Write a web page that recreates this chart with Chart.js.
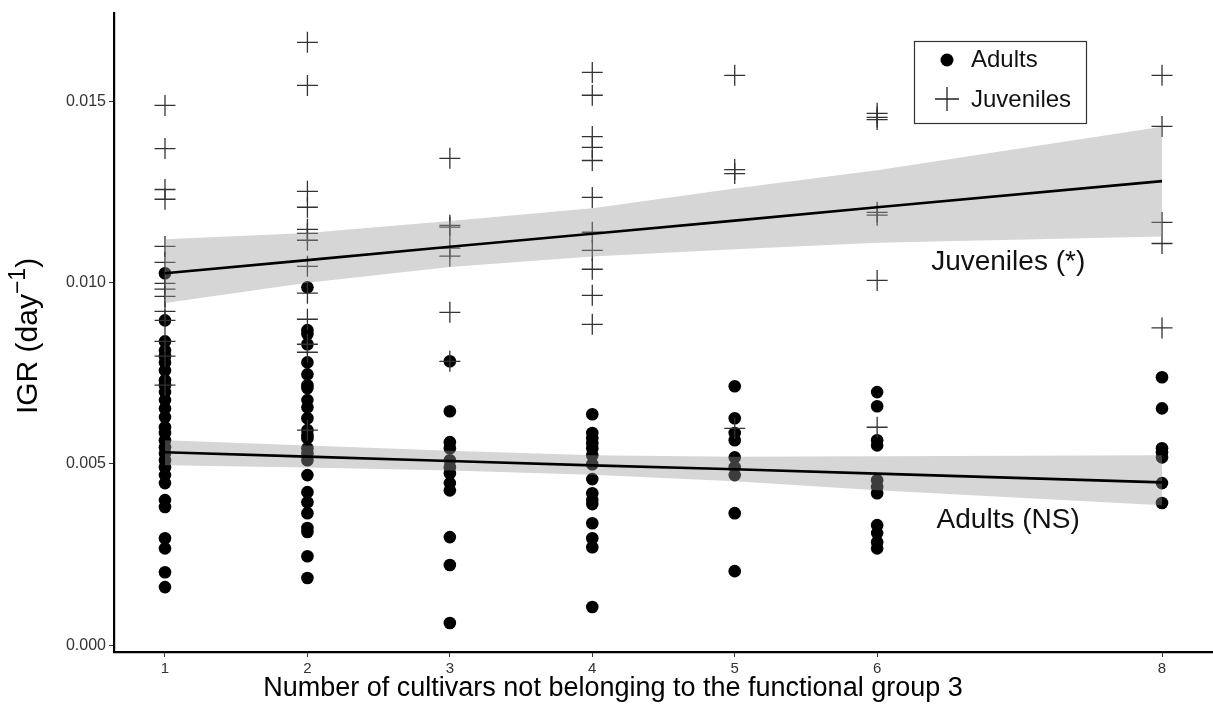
<!DOCTYPE html>
<html lang="en">
<head>
<meta charset="utf-8"/>
<title>IGR vs number of cultivars</title>
<script src="https://cdn.jsdelivr.net/npm/chart.js@4.4.3/dist/chart.umd.min.js"></script>
<style>
  html, body { margin: 0; padding: 0; background: #fff; overflow: hidden; }
  #wrap { width: 1213px; height: 718px; }
  canvas { display: block; }
</style>
</head>
<body>
<div id="wrap"><canvas id="c" width="1213" height="718"></canvas></div>
<script>
// --- data ---------------------------------------------------------------
const xTicks = [1, 2, 3, 4, 5, 6, 8];
const yTicks = [0, 0.005, 0.010, 0.015];

// adults (filled dots), grouped by number of cultivars
const adultsX1 = [0.01026, 0.00896, 0.00838, 0.00813, 0.00797, 0.00780, 0.00758, 0.00731, 0.00717, 0.00698,
  0.00676, 0.00653, 0.00629, 0.00601, 0.00585, 0.00565, 0.00546, 0.00529, 0.00510, 0.00491,
  0.00469, 0.00447, 0.00400, 0.00381, 0.00295, 0.00267, 0.00201, 0.00160];
const adultsX2 = [0.00987, 0.00869, 0.00858, 0.00830, 0.00780, 0.00747, 0.00717, 0.00709, 0.00676, 0.00656,
  0.00626, 0.00593, 0.00579, 0.00571, 0.00543, 0.00529, 0.00510, 0.00469, 0.00422, 0.00394,
  0.00364, 0.00323, 0.00312, 0.00245, 0.00185];
const adultsX3 = [0.00783, 0.00645, 0.00560, 0.00543, 0.00510, 0.00491, 0.00474, 0.00447, 0.00427, 0.00298,
  0.00221, 0.00061];
const adultsX4 = [0.00637, 0.00585, 0.00571, 0.00557, 0.00543, 0.00524, 0.00499, 0.00458, 0.00419, 0.00400,
  0.00389, 0.00336, 0.00295, 0.00270, 0.00105];
const adultsX5 = [0.00714, 0.00626, 0.00585, 0.00565, 0.00518, 0.00491, 0.00469, 0.00364, 0.00204];
const adultsX6 = [0.00698, 0.00659, 0.00565, 0.00551, 0.00455, 0.00436, 0.00419, 0.00331, 0.00309, 0.00284, 0.00267];
const adultsX8 = [0.00739, 0.00653, 0.00543, 0.00532, 0.00518, 0.00447, 0.00392];

// juveniles (crosses)
const juvX1 = [0.01489, 0.01370, 0.01257, 0.01230, 0.01100, 0.01056, 0.00998, 0.00982, 0.00962, 0.00921,
  0.00896, 0.00838, 0.00797, 0.00717];
const juvX2 = [0.01663, 0.01544, 0.01252, 0.01208, 0.01147, 0.01136, 0.01117, 0.01045, 0.00971, 0.00899,
  0.00830, 0.00808, 0.00593];
const juvX3 = [0.01343, 0.01158, 0.01153, 0.01095, 0.01073, 0.00918, 0.00783];
const juvX4 = [0.01580, 0.01517, 0.01403, 0.01373, 0.01337, 0.01235, 0.01139, 0.01089, 0.01037, 0.00965, 0.00885];
const juvX5 = [0.01572, 0.01312, 0.01301, 0.00598];
const juvX6 = [0.01467, 0.01456, 0.01450, 0.01194, 0.01186, 0.01006, 0.00601];
const juvX8 = [0.01572, 0.01431, 0.01166, 0.01108, 0.00875];

// linear fits with confidence bands, at the tick positions
const fitX = [1, 2, 3, 4, 5, 6, 8];
const juvFit = [0.01026, 0.01062, 0.01099, 0.01135, 0.01171, 0.01208, 0.01280];
const juvUpper = [0.01120, 0.01137, 0.01170, 0.01205, 0.01260, 0.01310, 0.01430];
const juvLower = [0.00944, 0.01000, 0.01043, 0.01072, 0.01092, 0.01110, 0.01127];
const adFit = [0.00532, 0.00520, 0.00508, 0.00496, 0.00485, 0.00473, 0.00449];
const adUpper = [0.00565, 0.00551, 0.00536, 0.00524, 0.00520, 0.00521, 0.00524];
const adLower = [0.00496, 0.00490, 0.00482, 0.00470, 0.00452, 0.00427, 0.00386];

// ---------------------------------------------------------------------------
const FONT = 'Liberation Sans, Arial, Helvetica, sans-serif';

function group(xs, cols) {
  const out = [];
  xs.forEach((x, i) => cols[i].forEach((y) => out.push({ x, y })));
  return out;
}
const pts = (ys) => fitX.map((x, i) => ({ x, y: ys[i] }));

const adults = group(xTicks, [adultsX1, adultsX2, adultsX3, adultsX4, adultsX5, adultsX6, adultsX8]);
const juveniles = group(xTicks, [juvX1, juvX2, juvX3, juvX4, juvX5, juvX6, juvX8]);

const band = (ys, fillTo) => ({
  type: 'line', data: pts(ys), borderWidth: 0, pointRadius: 0,
  backgroundColor: 'rgba(153,153,153,0.4)', fill: fillTo, order: 2,
});
const fitLine = (ys) => ({
  type: 'line', data: pts(ys), borderColor: '#000', borderWidth: 2.6,
  pointRadius: 0, fill: false, order: 1,
});

// inset legend, line annotations and both axis titles
const decorations = {
  id: 'decorations',
  afterDraw(chart) {
    const { ctx, scales: { x, y } } = chart;
    ctx.save();
    // legend box
    ctx.strokeStyle = '#333';
    ctx.lineWidth = 1.2;
    ctx.strokeRect(914.5, 41.5, 172, 82);
    ctx.fillStyle = '#000';
    ctx.beginPath();
    ctx.arc(947, 60, 6.5, 0, Math.PI * 2);
    ctx.fill();
    ctx.strokeStyle = '#222';
    ctx.lineWidth = 1.3;
    ctx.beginPath();
    ctx.moveTo(935, 99); ctx.lineTo(959, 99);
    ctx.moveTo(947, 87); ctx.lineTo(947, 111);
    ctx.stroke();
    ctx.font = '24px ' + FONT;
    ctx.textBaseline = 'middle';
    ctx.textAlign = 'left';
    ctx.fillStyle = '#111';
    ctx.fillText('Adults', 971, 60);
    ctx.fillText('Juveniles', 971, 100);
    // fit labels
    ctx.font = '28px ' + FONT;
    ctx.textAlign = 'center';
    ctx.fillText('Juveniles (*)', x.getPixelForValue(6.92), y.getPixelForValue(0.01056));
    ctx.fillText('Adults (NS)', x.getPixelForValue(6.92), y.getPixelForValue(0.00345));
    // x title
    ctx.fillStyle = '#000';
    ctx.font = '27px ' + FONT;
    ctx.fillText('Number of cultivars not belonging to the functional group 3', 613, 689);
    // y title: IGR (day^-1)
    const main = '30px ' + FONT, sup = '23px ' + FONT;
    const parts = [['IGR (day', main, 0], ['\u22121', sup, -12], [')', main, 0]];
    let total = 0;
    parts.forEach((p) => { ctx.font = p[1]; total += ctx.measureText(p[0]).width; });
    ctx.translate(27, 336);
    ctx.rotate(-Math.PI / 2);
    ctx.textAlign = 'left';
    ctx.textBaseline = 'alphabetic';
    let cx = -total / 2;
    parts.forEach((p) => {
      ctx.font = p[1];
      ctx.fillText(p[0], cx, 10 + p[2]);
      cx += ctx.measureText(p[0]).width;
    });
    ctx.restore();
  },
};

new Chart(document.getElementById('c'), {
  type: 'scatter',
  data: {
    datasets: [
      { label: 'Adults', data: adults, pointStyle: 'circle', pointRadius: 6.3, pointHoverRadius: 6.3,
        backgroundColor: '#000', borderColor: '#000', borderWidth: 0, order: 4 },
      { label: 'Juveniles', data: juveniles, pointStyle: 'cross', pointRadius: 10.5, pointHoverRadius: 10.5,
        borderColor: '#333', borderWidth: 1.3, order: 3 },
      band(juvUpper, 3),
      band(juvLower, false),
      band(adUpper, 5),
      band(adLower, false),
      fitLine(juvFit),
      fitLine(adFit),
    ],
  },
  options: {
    responsive: false,
    animation: false,
    layout: { autoPadding: false, padding: { top: 12, right: 0, left: 0, bottom: 0 } },
    plugins: { legend: { display: false }, tooltip: { enabled: false } },
    scales: {
      x: {
        type: 'linear', min: 0.642, max: 8.358,
        afterBuildTicks: (s) => { s.ticks = xTicks.map((v) => ({ value: v })); },
        afterFit: (s) => { s.height = 66; },
        ticks: { color: '#333', font: { size: 15, family: FONT }, padding: 3, callback: (v) => String(v) },
        grid: { drawOnChartArea: false, drawTicks: true, tickLength: 5, color: '#333', lineWidth: 1 },
        border: { display: true, color: '#000', width: 2.2 },
        title: { display: false },
      },
      y: {
        type: 'linear', min: -0.00019, max: 0.01745,
        afterBuildTicks: (s) => { s.ticks = yTicks.map((v) => ({ value: v })); },
        afterFit: (s) => { s.width = 114; },
        ticks: { color: '#333', font: { size: 16, family: FONT }, padding: 3, callback: (v) => v.toFixed(3) },
        grid: { drawOnChartArea: false, drawTicks: true, tickLength: 5, color: '#333', lineWidth: 1 },
        border: { display: true, color: '#000', width: 2.2 },
        title: { display: false },
      },
    },
  },
  plugins: [decorations],
});
</script>
</body>
</html>
